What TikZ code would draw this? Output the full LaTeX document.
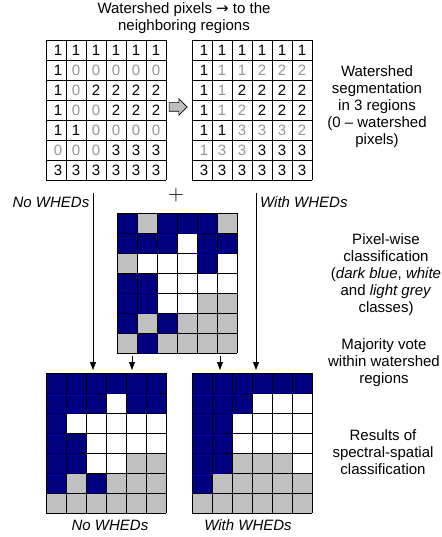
\documentclass[tikz,border=0pt]{standalone}
\usepackage{fontspec}
\setmainfont{Liberation Sans}
\newfontfamily\lmfont{Latin Modern Roman}
\newfontfamily\djfont{DejaVu Sans}
\usetikzlibrary{arrows.meta,shapes.arrows}
\definecolor{cB}{RGB}{0,0,128}
\definecolor{cL}{RGB}{192,192,192}
\definecolor{cW}{RGB}{255,255,255}
\definecolor{K}{RGB}{0,0,0}
\definecolor{Q}{RGB}{150,150,150}
\definecolor{arrfill}{RGB}{190,190,190}

\newcommand\cellgrid[3]{%
  \node[inner sep=0, minimum width=120pt, minimum height=140pt, anchor=north west] (#1) at (#2,#3) {};
  \foreach \i in {0,...,6} \draw[gl] ({#2+20*\i},#3) -- ++(0,140);
  \foreach \j in {0,...,7} \draw[gl] (#2,{#3+20*\j}) -- ++(120,0);
}
\newcommand\numgrid[4]{%
  \cellgrid{#1}{#2}{#3}
  \foreach \row [count=\r] in {#4} {
    \foreach \cl/\v [count=\c] in \row {
      \node[digit, text=\cl] (#1-\r-\c) at ({#2+20*\c-10+(\c==1?2:0)},{#3+20*\r-10}) {\v};
    }
  }
}
\newcommand\colgrid[4]{%
  \foreach \row [count=\r] in {#4} {
    \foreach \v [count=\c] in \row {
      \fill[fill=\v] ({#2+20*\c-20},{#3+20*\r-20}) rectangle ++(20,20);
    }
  }
  \cellgrid{#1}{#2}{#3}
}

\begin{document}
\begin{tikzpicture}[x=1pt,y=-1pt,
  gl/.style={line width=0.8pt, draw=black},
  digit/.style={inner sep=0pt, font=\fontsize{15}{17}\selectfont},
  lbl/.style={inner sep=0pt, align=center, font=\fontsize{15}{17}\selectfont},
  ilbl/.style={inner sep=0pt, font=\fontsize{15}{17}\selectfont\itshape},
  conn/.style={line width=0.8pt, -{Triangle[length=8pt,width=6pt]}}]
\useasboundingbox (0,0) rectangle (441,537);

% top number grids
\numgrid{ga}{46}{40}{
  {K/1,K/1,K/1,K/1,K/1,K/1},
  {K/1,Q/0,Q/0,Q/0,Q/0,Q/0},
  {K/1,Q/0,K/2,K/2,K/2,K/2},
  {K/1,Q/0,Q/0,K/2,K/2,K/2},
  {K/1,K/1,Q/0,Q/0,Q/0,Q/0},
  {Q/0,Q/0,Q/0,K/3,K/3,K/3},
  {K/3,K/3,K/3,K/3,K/3,K/3}}
\numgrid{gb}{192}{40}{
  {K/1,K/1,K/1,K/1,K/1,K/1},
  {K/1,Q/1,Q/1,Q/2,Q/2,Q/2},
  {K/1,Q/1,K/2,K/2,K/2,K/2},
  {K/1,Q/1,Q/2,K/2,K/2,K/2},
  {K/1,K/1,Q/3,Q/3,Q/3,Q/2},
  {Q/1,Q/3,Q/3,K/3,K/3,K/3},
  {K/3,K/3,K/3,K/3,K/3,K/3}}

% block arrow
\node[single arrow, draw=black, line width=0.6pt, fill=arrfill, inner sep=4pt,
      minimum height=18pt, single arrow head extend=4pt, anchor=center] (barrow) at (176,107) {};

% pixel-wise classification grid
\colgrid{gc}{117}{213}{
  {cB,cL,cB,cB,cB,cL},
  {cB,cB,cB,cW,cB,cB},
  {cL,cW,cW,cW,cB,cW},
  {cB,cB,cW,cW,cW,cW},
  {cB,cB,cW,cW,cL,cL},
  {cB,cL,cB,cL,cL,cL},
  {cL,cB,cL,cL,cL,cL}}

% result grids
\colgrid{gL}{46}{373}{
  {cB,cB,cB,cB,cB,cB},
  {cB,cB,cB,cW,cB,cB},
  {cB,cW,cW,cW,cW,cW},
  {cB,cB,cW,cW,cW,cW},
  {cB,cB,cW,cW,cL,cL},
  {cB,cL,cB,cL,cL,cL},
  {cL,cL,cL,cL,cL,cL}}
\colgrid{gR}{192}{373}{
  {cB,cB,cB,cB,cB,cB},
  {cB,cB,cB,cW,cW,cW},
  {cB,cB,cW,cW,cW,cW},
  {cB,cB,cW,cW,cW,cW},
  {cB,cB,cL,cL,cL,cW},
  {cB,cL,cL,cL,cL,cL},
  {cL,cL,cL,cL,cL,cL}}

% plus sign
\node[inner sep=0pt, font=\lmfont\fontsize{22}{22}\selectfont] (plus) at (176,195) {+};

% texts
\node[lbl] (title) at (184,18.5) {Watershed pixels {\djfont →} to the\\neighboring regions};
\node[lbl] (tseg) at (377,107) {Watershed\\segmentation\\in 3 regions\\(0 – watershed\\pixels)};
\node[lbl] (tpix) at (386,275) {Pixel-wise\\classification\\(\textit{dark blue}, \textit{white}\\and \textit{light grey}\\classes)};
\node[lbl] (tmaj) at (384,362.5) {Majority vote\\within watershed\\regions};
\node[lbl] (tres) at (383,452.5) {Results of\\spectral-spatial\\classification};
\node[ilbl] (lno) at (51,202) {No WHEDs};
\node[ilbl, anchor=west] (lwith) at (260,202) {With WHEDs};
\node[ilbl] (bno) at (110,525) {No WHEDs};
\node[ilbl] (bwith) at (248,525) {With WHEDs};

% connectors
\coordinate (sl) at (93,193);
\coordinate (sr) at (256,193);
\coordinate (m1) at (132,0);
\coordinate (m2) at (220,0);
\draw[conn] (sl) -- ([yshift=3pt]gL.north -| sl);
\draw[conn] (sr) -- ([yshift=3pt]gR.north -| sr);
\draw[conn] ([yshift=-3pt]gc.south -| m1) -- ([yshift=3pt]gL.north -| m1);
\draw[conn] ([yshift=-3pt]gc.south -| m2) -- ([yshift=3pt]gR.north -| m2);
\end{tikzpicture}
\end{document}
